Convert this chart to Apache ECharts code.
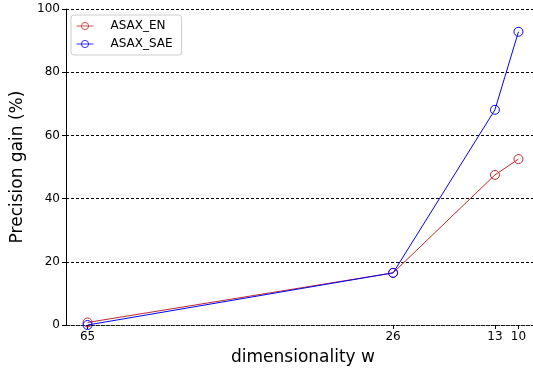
<!DOCTYPE html>
<html lang="en">

<head>
    <meta charset="UTF-8">
    <title>Precision gain</title>
    <style>
        html, body { margin: 0; padding: 0; background: #fff; }
    </style>
</head>
<script src="https://cdn.jsdelivr.net/npm/echarts@6/dist/echarts.min.js"></script>

<body>
    <div id="main" style="width: 533px;height: 368px;"></div>

    <script type="text/javascript">
        // data
        var dims = [65, 26, 13, 10];
        var enGain = [0.8, 16.5, 47.5, 52.5];
        var saeGain = [0.0, 16.5, 68.1, 92.8];
        var yTicks = [0, 20, 40, 60, 80, 100];

        function pairs(xs, ys) {
            return xs.map(function (x, i) { return [x, ys[i]]; });
        }

        var font = 'DejaVu Sans';
        var myChart = echarts.init(document.getElementById('main'));
        var option = {
            animation: false,
            textStyle: { fontFamily: font },
            legend: {
                left: 71,
                top: 15,
                orient: 'vertical',
                padding: [5, 9, 5, 5],
                itemGap: 6,
                itemWidth: 17,
                itemHeight: 9,
                borderColor: '#cccccc',
                borderWidth: 1,
                borderRadius: 3,
                backgroundColor: '#fff',
                lineStyle: { width: 1, opacity: 0.8 },
                itemStyle: { borderWidth: 1, opacity: 0.8 },
                textStyle: { fontFamily: font, fontSize: 12, color: '#000', padding: [0, 0, 0, 12] },
                data: ['ASAX_EN', 'ASAX_SAE']
            },
            grid: { left: 66, top: 9, width: 474, height: 316, outerBoundsMode: 'none', containLabel: false },
            xAxis: {
                type: 'value',
                inverse: true,
                min: 7.25,
                max: 67.75,
                name: 'dimensionality w',
                nameLocation: 'middle',
                nameGap: 24,
                nameTextStyle: { fontFamily: font, fontSize: 17, color: '#000' },
                axisLine: { lineStyle: { color: '#222', type: [3, 2], width: 1 } },
                axisTick: { customValues: dims, length: 4, lineStyle: { color: '#000' } },
                axisLabel: { customValues: dims, fontFamily: font, fontSize: 12, color: '#000', margin: 6 },
                splitLine: { show: false }
            },
            yAxis: {
                type: 'value',
                min: 0,
                max: 100,
                interval: 20,
                name: 'Precision gain (%)',
                nameLocation: 'middle',
                nameGap: 37,
                nameTextStyle: { fontFamily: font, fontSize: 17, color: '#000' },
                axisLine: { show: true, lineStyle: { color: '#000', width: 1 } },
                axisTick: { show: true, length: 4, lineStyle: { color: '#000' } },
                axisLabel: { fontFamily: font, fontSize: 12, color: '#000', margin: 6 },
                splitLine: { show: true, lineStyle: { color: '#000', type: [3, 2], width: 1 } }
            },
            series: [{
                name: 'ASAX_EN',
                type: 'line',
                data: pairs(dims, enGain),
                symbol: 'circle',
                symbolSize: 9,
                lineStyle: { width: 1, color: '#c0282a' },
                itemStyle: { color: 'rgba(255,255,255,0)', borderColor: '#c0282a', borderWidth: 1 }
            }, {
                name: 'ASAX_SAE',
                type: 'line',
                data: pairs(dims, saeGain),
                symbol: 'circle',
                symbolSize: 9,
                lineStyle: { width: 1, color: '#0000ff' },
                itemStyle: { color: 'rgba(255,255,255,0)', borderColor: '#0000ff', borderWidth: 1 }
            }]
        };
        myChart.setOption(option);
    </script>
</body>

</html>
